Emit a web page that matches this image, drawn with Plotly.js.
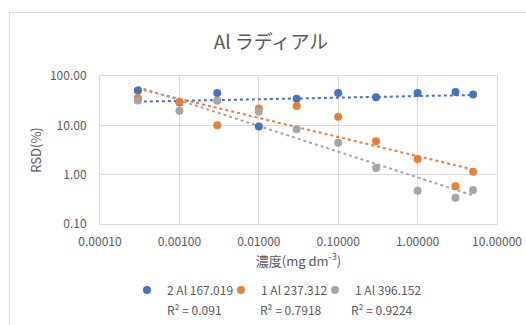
<!DOCTYPE html>
<html>
<head>
<meta charset="utf-8">
<script src="https://cdn.plot.ly/plotly-3.0.1.min.js"></script>
<style>
html,body{margin:0;padding:0;background:#fff;}
#chart{width:526px;height:325px;}
</style>
</head>
<body>
<div id="chart"></div>
<script>
// ---- data ----
const concentration = [0.0003, 0.001, 0.003, 0.01, 0.03, 0.1, 0.3, 1, 3, 5];
const seriesNames = ["2 Al 167.019", "1 Al 237.312", "1 Al 396.152"];
const rsd_167 = [51, 29, 45, 9.5, 34.6, 45, 37, 45, 47.4, 42];
const rsd_237 = [36, 30, 10, 22, 24.7, 15, 4.74, 2.08, 0.58, 1.15];
const rsd_396 = [32, 19.8, 31.6, 18.9, 8.3, 4.46, 1.36, 0.47, 0.34, 0.49];
const r2Labels = ["R² = 0.091", "R² = 0.7918", "R² = 0.9224"];
const titleText = "Al ラディアル";
const xTitle = "濃度(mg dm<sup>-3</sup>)";
const yTitle = "RSD(%)";

const colors = ["#4472C4", "#ED7D31", "#A5A5A5"];
const allSeries = [rsd_167, rsd_237, rsd_396];

// power trendline (least squares in log-log space)
function powerFit(xs, ys) {
  const lx = xs.map(Math.log10), ly = ys.map(Math.log10);
  const n = lx.length;
  const mx = lx.reduce((a, b) => a + b, 0) / n;
  const my = ly.reduce((a, b) => a + b, 0) / n;
  let sxy = 0, sxx = 0;
  for (let i = 0; i < n; i++) { sxy += (lx[i] - mx) * (ly[i] - my); sxx += (lx[i] - mx) ** 2; }
  const b = sxy / sxx, a = my - b * mx;
  const xmin = Math.min(...xs), xmax = Math.max(...xs);
  const tx = [xmin, xmax];
  return { x: tx, y: tx.map(v => Math.pow(10, a + b * Math.log10(v))) };
}

const FONT = "'Noto Sans CJK JP', 'Noto Sans', sans-serif";
const legendIds = ["legend", "legend2", "legend3"];
const traces = [];
allSeries.forEach((ys, i) => {
  const f = powerFit(concentration, ys);
  traces.push({
    x: f.x, y: f.y, mode: "lines", type: "scatter",
    line: { color: colors[i], width: 2, dash: "dot" },
    showlegend: false, hoverinfo: "skip"
  });
});
allSeries.forEach((ys, i) => {
  traces.push({
    x: concentration, y: ys, mode: "markers", type: "scatter",
    name: seriesNames[i], legend: legendIds[i],
    marker: { color: colors[i], size: 8 }
  });
});

// layout helpers (plot area: x 100..497, y 76..224)
const L = 100, R = 497, T = 76, B = 224;
const px = v => (v - L) / (R - L);
const py = v => (B - v) / (B - T);

const annotations = r2Labels.map((t, i) => ({
  text: t, xref: "paper", yref: "paper",
  x: px([194.7, 291, 382][i]), y: py(309.5),
  xanchor: "center", yanchor: "middle", showarrow: false,
  font: { family: FONT, size: 12, color: "#595959" }
}));

const legendLefts = [127, 221, 315];
const legendCfg = i => ({
  orientation: "h", xref: "paper", yref: "paper",
  x: px(legendLefts[i]), y: py(290), xanchor: "left", yanchor: "middle",
  font: { family: FONT, size: 12, color: "#595959" },
  bgcolor: "rgba(0,0,0,0)", itemwidth: 30
});

const layout = {
  width: 526, height: 325,
  margin: { l: L, r: 526 - R, t: T, b: 325 - B },
  paper_bgcolor: "#fff", plot_bgcolor: "#fff",
  font: { family: FONT, size: 12, color: "#595959" },
  title: {
    text: titleText, xref: "container", yref: "container",
    x: 271 / 526, y: 1 - 42 / 325, xanchor: "center", yanchor: "middle",
    font: { family: FONT, size: 19, color: "#595959" }
  },
  xaxis: {
    type: "log", range: [-4, 1], dtick: 1, tickformat: ".5f",
    showgrid: true, gridcolor: "#d9d9d9", gridwidth: 1,
    showline: true, mirror: true, linecolor: "#d9d9d9", linewidth: 1,
    ticks: "", ticklabelstandoff: 7, zeroline: false,
    tickfont: { family: FONT, size: 12, color: "#595959" },
    title: { text: xTitle, standoff: 6, font: { family: FONT, size: 13, color: "#595959" } }
  },
  yaxis: {
    type: "log", range: [-1, 2], dtick: 1, tickformat: ".2f",
    showgrid: true, gridcolor: "#d9d9d9", gridwidth: 1,
    showline: true, mirror: true, linecolor: "#d9d9d9", linewidth: 1,
    ticks: "", ticklabelstandoff: 10, zeroline: false,
    tickfont: { family: FONT, size: 12, color: "#595959" },
    title: { text: yTitle, standoff: 5, font: { family: FONT, size: 13, color: "#595959" } }
  },
  showlegend: true,
  legend: legendCfg(0),
  legend2: legendCfg(1),
  legend3: legendCfg(2),
  annotations: annotations,
  shapes: [
    { type: "line", xref: "paper", yref: "paper", x0: px(9.5), x1: px(530), y0: py(12.5), y1: py(12.5),
      line: { color: "#d9d9d9", width: 1 } },
    { type: "line", xref: "paper", yref: "paper", x0: px(9.5), x1: px(9.5), y0: py(12.5), y1: py(330),
      line: { color: "#d9d9d9", width: 1 } }
  ]
};

Plotly.newPlot("chart", traces, layout, { displayModeBar: false, staticPlot: true });
</script>
</body>
</html>
